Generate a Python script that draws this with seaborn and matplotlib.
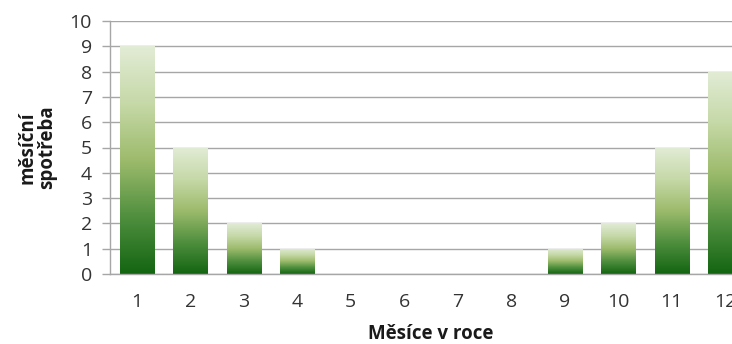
import numpy as np
import pandas as pd
import seaborn as sns
import matplotlib.pyplot as plt
from matplotlib.colors import LinearSegmentedColormap

# Monthly consumption per month of the year
months = [str(i) for i in range(1, 13)]
consumption = [9, 5, 2, 1, 0, 0, 0, 0, 1, 2, 5, 8]
y_ticks = list(range(0, 11))

sns.set_theme(style="white")
plt.rcParams['font.family'] = ['Open Sans', 'DejaVu Sans']

fig = plt.figure(figsize=(7.32, 3.44), dpi=100)
# axes runs past the right edge of the figure, so the last bar is clipped
ax = fig.add_axes([110 / 732, 70 / 344, 642 / 732, 253 / 344])

df = pd.DataFrame({"month": months, "value": consumption})
sns.barplot(data=df, x="month", y="value", ax=ax, width=0.64,
            color="#9bbb59", errorbar=None, zorder=2)

# vertical gradient fill: dark green at the base, pale green at the top
grad = LinearSegmentedColormap.from_list(
    "greens", ["#136512", "#4f8f3e", "#9dbb6c", "#c6d9a8", "#e2ecd6"])
gradient = np.linspace(0, 1, 256).reshape(-1, 1)
for patch in ax.patches:
    h = patch.get_height()
    patch.set_facecolor("none")
    patch.set_edgecolor("none")
    if h <= 0:
        continue
    x0 = patch.get_x()
    w = patch.get_width()
    y0 = patch.get_y()
    im = ax.imshow(gradient, cmap=grad, origin="lower", aspect="auto",
                   extent=[x0, x0 + w, y0, y0 + h], zorder=2,
                   interpolation="bilinear")
    im.set_clip_path(patch)

ax.set_xlim(-0.5, 11.5)
ax.set_ylim(0, 10)
ax.set_yticks(y_ticks)

ax.set_axisbelow(True)
ax.yaxis.grid(True, color="#a6a6a6", linewidth=1)
ax.xaxis.grid(False)
for side in ("top", "right"):
    ax.spines[side].set_visible(False)
for side in ("left", "bottom"):
    ax.spines[side].set_color("#a6a6a6")
    ax.spines[side].set_linewidth(1)

ax.tick_params(axis="y", which="major", length=6, width=1, color="#a6a6a6",
               direction="out", pad=7, labelsize=14, labelcolor="#333333",
               left=True)
ax.tick_params(axis="x", length=0, pad=14, labelsize=14,
               labelcolor="#333333")

ax.set_xlabel("Měsíce v roce", fontsize=13.5, fontweight="bold",
              color="#1a1a1a", va="center")
ax.xaxis.set_label_coords(0.5, -60 / 253)
ax.set_ylabel("měsíční\nspotřeba", fontsize=13.5, fontweight="bold",
              color="#1a1a1a", va="center", linespacing=1.0)
ax.yaxis.set_label_coords(-73 / 642, 0.5)

fig.savefig("out.png", dpi=100)
